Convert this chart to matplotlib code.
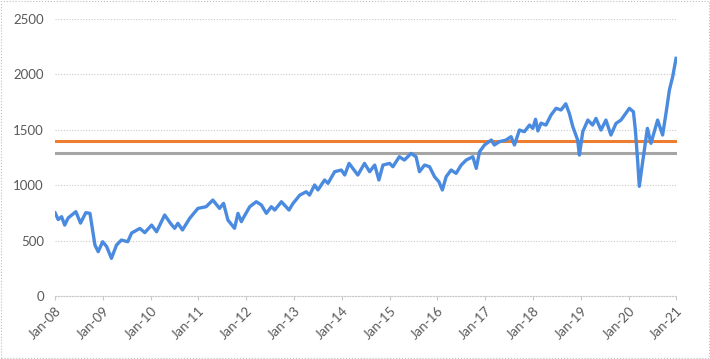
import pandas as pd
import matplotlib.pyplot as plt
import matplotlib.dates as mdates
from matplotlib.patches import Rectangle

# values (approximate)
dates = [
    "2008-01-02", "2008-01-25", "2008-02-20", "2008-03-15", "2008-04-10", "2008-06-08",
    "2008-07-14", "2008-08-23", "2008-09-24", "2008-10-14", "2008-11-01", "2008-11-26",
    "2008-12-30", "2009-01-30", "2009-03-07", "2009-04-15", "2009-05-22", "2009-07-10",
    "2009-08-08", "2009-10-10", "2009-11-17", "2010-01-08", "2010-02-15", "2010-04-18",
    "2010-06-05", "2010-07-03", "2010-07-28", "2010-09-01", "2010-10-26", "2010-12-28",
    "2011-03-01", "2011-04-21", "2011-06-11", "2011-07-12", "2011-08-14", "2011-10-04",
    "2011-10-30", "2011-11-25", "2011-12-08", "2012-01-28", "2012-03-18", "2012-04-26",
    "2012-06-03", "2012-07-11", "2012-08-06", "2012-09-26", "2012-11-23", "2012-12-24",
    "2013-02-14", "2013-04-04", "2013-04-29", "2013-06-07", "2013-07-02", "2013-08-22",
    "2013-09-17", "2013-11-07", "2013-12-28", "2014-01-23", "2014-02-25", "2014-05-03",
    "2014-06-23", "2014-08-01", "2014-09-09", "2014-10-11", "2014-11-11", "2015-01-01",
    "2015-01-26", "2015-03-16", "2015-04-24", "2015-06-14", "2015-07-22", "2015-08-17",
    "2015-09-25", "2015-11-02", "2015-12-10", "2016-01-12", "2016-02-08", "2016-03-08",
    "2016-04-15", "2016-05-23", "2016-07-01", "2016-08-08", "2016-09-28", "2016-10-24",
    "2016-11-18", "2016-12-26", "2017-02-16", "2017-03-11", "2017-04-19", "2017-06-09",
    "2017-07-17", "2017-08-12", "2017-09-19", "2017-10-27", "2017-12-05", "2017-12-30",
    "2018-01-20", "2018-02-07", "2018-03-03", "2018-04-10", "2018-05-18", "2018-06-26",
    "2018-08-03", "2018-09-08", "2018-10-05", "2018-11-01", "2018-12-08", "2018-12-21",
    "2019-01-16", "2019-02-24", "2019-04-01", "2019-04-27", "2019-06-04", "2019-07-12",
    "2019-08-19", "2019-09-27", "2019-11-04", "2020-01-07", "2020-02-07", "2020-02-22",
    "2020-03-10", "2020-03-23", "2020-04-16", "2020-05-24", "2020-06-20", "2020-08-10",
    "2020-09-17", "2020-10-13", "2020-11-08", "2020-12-03", "2020-12-29",
]
values = [
    750, 690, 716, 640, 704, 761,
    658, 752, 746, 596, 460, 400,
    490, 445, 340, 460, 505, 490,
    568, 610, 572, 640, 580, 731,
    650, 611, 656, 596, 701, 791,
    806, 866, 791, 836, 686, 611,
    746, 671, 701, 806, 851, 821,
    746, 806, 776, 851, 776, 836,
    911, 941, 911, 1002, 957, 1047,
    1017, 1122, 1137, 1092, 1197, 1092,
    1197, 1122, 1182, 1047, 1182, 1197,
    1167, 1257, 1227, 1287, 1257, 1122,
    1182, 1167, 1077, 1032, 957, 1077,
    1137, 1107, 1182, 1227, 1257, 1152,
    1302, 1363, 1408, 1363, 1393, 1408,
    1438, 1363, 1498, 1483, 1543, 1513,
    1595, 1490, 1560, 1543, 1633, 1694,
    1679, 1735, 1649, 1528, 1408, 1272,
    1483, 1588, 1543, 1603, 1498, 1588,
    1453, 1558, 1588, 1694, 1663, 1498,
    1227, 990, 1197, 1513, 1378, 1588,
    1453, 1649, 1859, 1979, 2145,
]
orange_level = 1400
grey_level = 1290
year_ticks = pd.date_range("2008-01-01", "2021-01-01", freq="YS")

plt.rcParams['font.family'] = ['Lato', 'DejaVu Sans']

fig = plt.figure(figsize=(7.1, 3.59), dpi=100)
ax = fig.add_axes([0.0775, 0.1755, 0.876, 0.7715])

ax.axhline(orange_level, color="#ED7D31", lw=2.2, zorder=2)
ax.axhline(grey_level, color="#A5A5A5", lw=2.2, zorder=2)
ax.plot(pd.to_datetime(dates), values, color="#4A8BE0", lw=2.4, zorder=3)

ax.set_ylim(0, 2500)
ax.set_yticks([0, 500, 1000, 1500, 2000, 2500])
ax.set_xlim(pd.Timestamp("2008-01-01"), pd.Timestamp("2021-01-05"))
ax.set_xticks(year_ticks)
ax.xaxis.set_major_formatter(mdates.DateFormatter("%b-%y"))

ax.grid(axis="y", color="#C8C8C8", linestyle=(0, (1, 1.5)), lw=0.8)
for s in ["top", "right", "left"]:
    ax.spines[s].set_visible(False)
ax.spines["bottom"].set_color("#C8C8C8")
ax.spines["bottom"].set_linestyle((0, (1, 1.5)))
ax.tick_params(axis="y", length=0, labelsize=9.5, labelcolor="#595959", pad=8)
ax.tick_params(axis="x", length=3, color="#C8C8C8", labelsize=9.5, labelcolor="#595959")
plt.setp(ax.get_xticklabels(), rotation=45, ha="right", rotation_mode="anchor")

fig.patches.append(Rectangle((0.002, 0.003), 0.996, 0.994, transform=fig.transFigure,
                             fill=False, edgecolor="#BFBFBF", linestyle=":", lw=0.8))

fig.savefig("out.png", dpi=100)
